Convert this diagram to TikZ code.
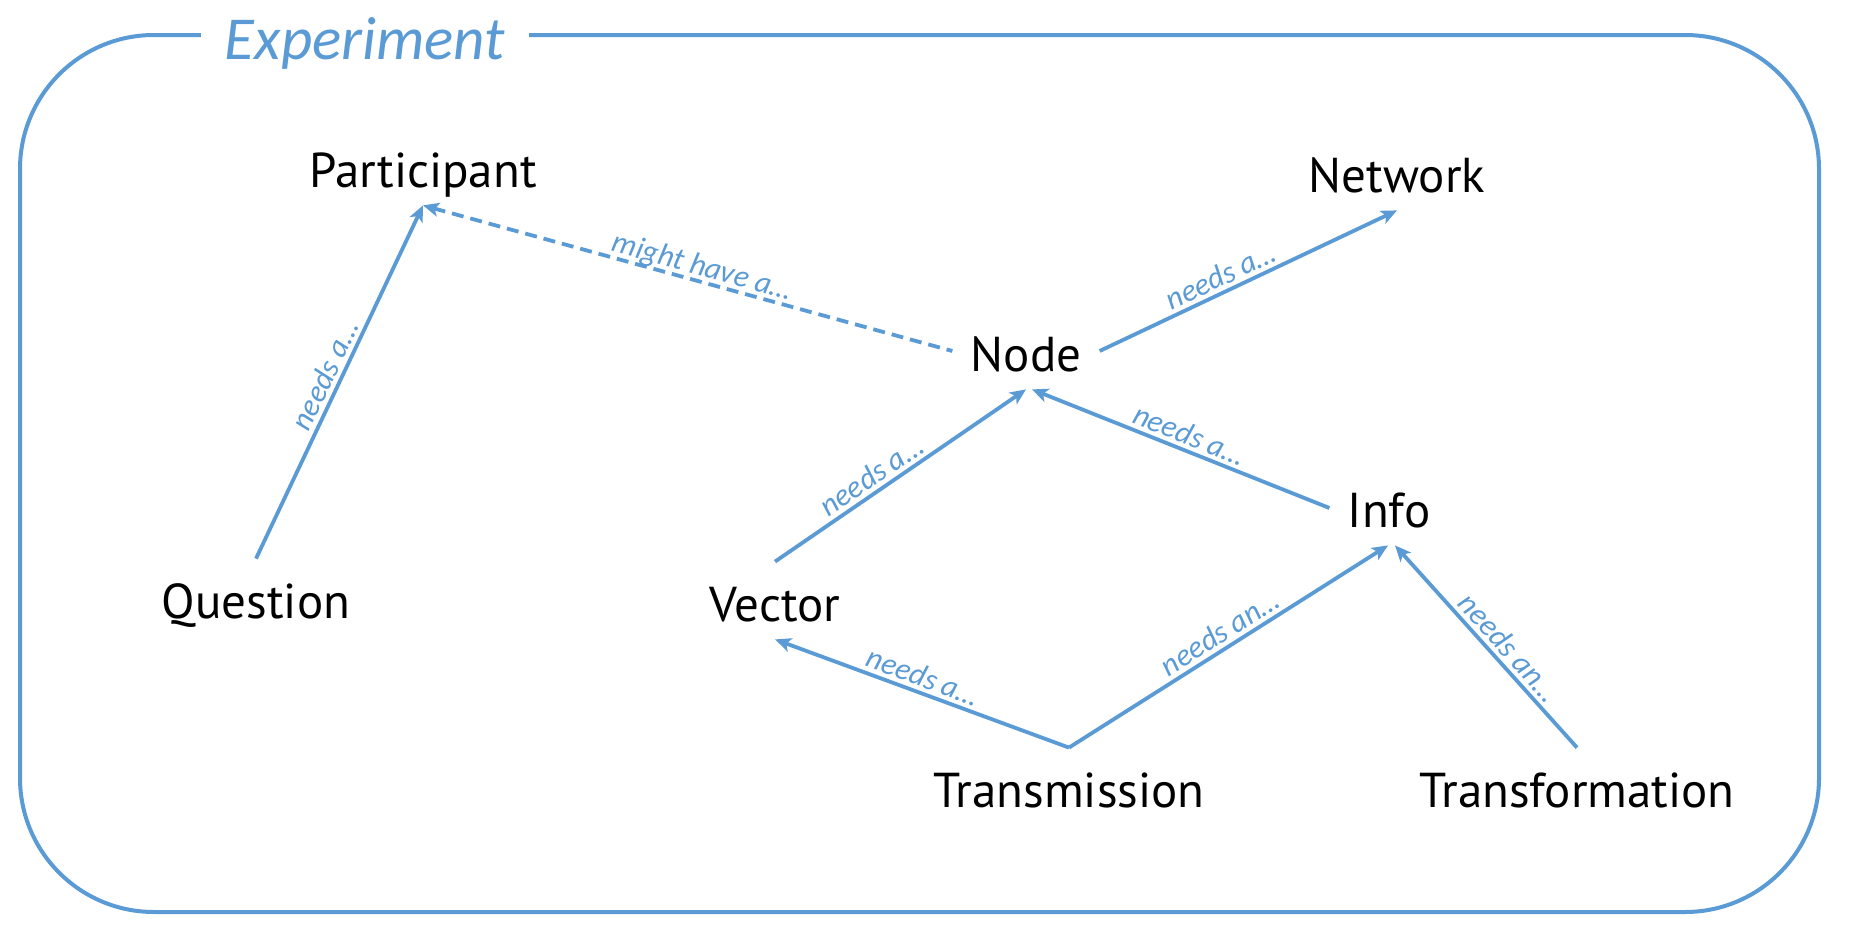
\documentclass[tikz,border=0pt]{standalone}
\usepackage{fontspec}
\setmainfont{PT Sans}
\newfontfamily\labfont{Carlito}
\usetikzlibrary{arrows.meta}
\definecolor{eblue}{HTML}{5B9BD5}
\begin{document}
\begin{tikzpicture}[x=0.5pt,y=-0.5pt,
  concept/.style={anchor=base, font=\fontsize{24.5pt}{30pt}\selectfont, inner xsep=9pt, inner ysep=4pt, text height=18pt, text depth=5pt},
  rel/.style={draw=eblue, line width=1.9pt, -{Stealth[length=8pt,width=7pt,inset=2pt]}},
  relback/.style={draw=eblue, line width=1.9pt, {Stealth[length=8pt,width=7pt,inset=2pt]}-},
  lab/.style={sloped, above, inner sep=2pt, text depth=0pt, text=eblue, font=\labfont\itshape\fontsize{15.5pt}{18pt}\selectfont},
  frame/.style={draw=eblue, line width=2pt, rounded corners=67pt},
  titlebox/.style={fill=white, inner xsep=12pt, inner ysep=2pt, anchor=base, text=eblue, font=\labfont\itshape\fontsize{30.5pt}{34pt}\selectfont}
]
\fill[white] (0,0) rectangle (1852,942);
\useasboundingbox (0,0) rectangle (1852,942);
\draw[frame] (20,35) rectangle (1819,912);
\node[titlebox] (title) at (365,59) {Experiment};

\node[concept] (part) at (423,187) {Participant};
\node[concept] (net) at (1397,192) {Network};
\node[concept] (node) at (1026,371) {Node};
\node[concept] (info) at (1389,527) {Info};
\node[concept] (ques) at (256,618) {Question};
\node[concept] (vec) at (775,621) {Vector};
\node[concept] (tmis) at (1069,807) {Transmission};
\node[concept] (tform) at (1577,807) {Transformation};

\draw[rel] ([yshift=7.5pt]ques.north) -- node[lab,pos=0.5]{needs a…} (part.south);
\draw[relback, dash pattern=on 6pt off 3.5pt] (part.south) -- node[lab,pos=0.52]{might have a…} ([yshift=3.5pt]node.west);
\draw[rel] ([yshift=3.5pt]node.east) -- node[lab,pos=0.43]{needs a…} (net.south);
\draw[rel] ([yshift=7.5pt]vec.north) -- node[lab,pos=0.42]{needs a…} (node.south);
\draw[relback] ([xshift=3pt]node.south) -- node[lab,pos=0.51]{needs a…} ([yshift=3pt]info.west);
\draw[relback] (vec.south) -- node[lab,pos=0.485]{needs a…} ([yshift=7.5pt]tmis.north);
\draw[rel] ([yshift=7.5pt]tmis.north) -- node[lab,pos=0.5]{needs an…} ([xshift=-0.5pt]info.south);
\draw[relback] ([xshift=3pt]info.south) -- node[lab,pos=0.56]{needs an…} ([yshift=7.5pt]tform.north);
\end{tikzpicture}
\end{document}
